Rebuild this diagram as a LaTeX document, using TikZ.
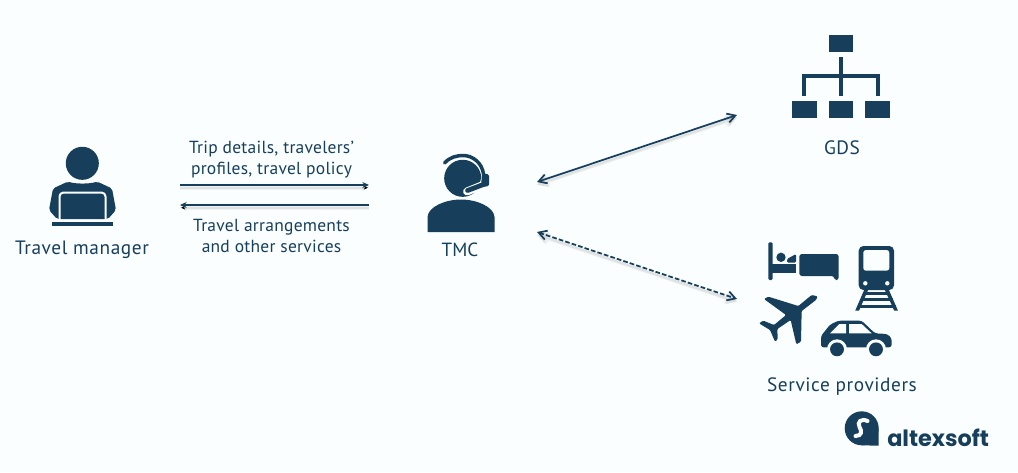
\documentclass[tikz,border=0pt]{standalone}
\usepackage{fontspec}
\setmainfont{PT Sans}
\newfontfamily\logofont{Poppins}
\usetikzlibrary{arrows.meta}
\definecolor{navy}{HTML}{173F5C}
\definecolor{bgc}{HTML}{FAFEFF}
\tikzset{
  x=0.75pt,y=-0.75pt,
  lbl/.style={text=navy,font=\fontsize{14.5pt}{15.8pt}\selectfont\addfontfeature{LetterSpace=3},align=center,inner sep=0pt},
  sml/.style={text=navy,font=\fontsize{13.1pt}{15.8pt}\selectfont\addfontfeature{LetterSpace=1.5},align=center,inner sep=0pt},
  ink/.style={fill=navy,draw=none},
  gap/.style={fill=bgc,draw=none},
  shade/.style={preaction={draw=black,draw opacity=.05,line width=3pt,transform canvas={yshift=-2pt}},preaction={draw=black,draw opacity=.06,line width=1.5pt,transform canvas={yshift=-2pt}}},
  flow/.style={draw=navy,line width=1.3pt,shade,-{Stealth[length=5pt,width=4.5pt]}},
  both/.style={draw=navy,line width=1.3pt,shade,{Straight Barb[length=6pt,width=7pt]}-{Straight Barb[length=6pt,width=7pt]}},
  bothdash/.style={both,dash pattern=on 3.5pt off 1.6pt},
}
\begin{document}
\begin{tikzpicture}
\path[use as bounding box,fill=bgc] (0,0) rectangle (1018,472);
% Travel manager icon
\fill[ink] (82.3,163.3) circle (12.4pt);
\fill[ink,rounded corners=1.5pt] (68,181.5) .. controls (75,184) and (90,184) .. (97,181.5) -- (112,188.5) -- (116,210) -- (108,219) -- (57,219) -- (49,210) -- (53,188.5) -- cycle;
\draw[draw=bgc,line width=1.5pt,rounded corners=3pt] (59.5,223) -- (59.5,192.5) -- (105.5,192.5) -- (105.5,223);
\fill[ink] (52,222) rectangle (113,226);
\node[lbl] (manager) at (82,250) {Travel manager};
% TMC icon
\fill[ink] (462.7,178.3) circle (13.9pt);
\draw[draw=bgc,line width=6pt,line cap=round] (488,183) -- (467,191.5);
\draw[draw=navy,line width=2.6pt,line cap=round] (444.5,163) .. controls (450,157) and (457,155.5) .. (463,155.5) .. controls (473,155.5) and (482,163) .. (483.5,174);
\draw[draw=bgc,line width=1.2pt] (483,174) -- (480,186);
\fill[ink,rounded corners=1pt] (482,173) -- (489,174.5) -- (489,186) -- (481,187) -- cycle;
\draw[draw=navy,line width=3.6pt,line cap=round] (486,183.5) -- (467.5,190.5);
\fill[ink] (427.5,232) -- (427.5,217) .. controls (428,207) and (445,199.5) .. (461,199.5) .. controls (477,199.5) and (494,207) .. (494.5,217) -- (494.5,232) -- cycle;
\node[lbl,font=\fontsize{14.3pt}{15.8pt}\selectfont] (tmc) at (460,250) {TMC};
% GDS icon
\fill[ink] (828.7,35) rectangle (853.3,51.7);
\fill[ink] (838.7,57) rectangle (843.3,95.7);
\fill[ink] (801.7,74.3) rectangle (880,78.3);
\fill[ink] (801.7,74.3) rectangle (806.3,95.7);
\fill[ink] (875.5,74.3) rectangle (880,95.7);
\fill[ink] (791.7,101) rectangle (816.7,117.7);
\fill[ink] (828.7,101) rectangle (853.3,117.7);
\fill[ink] (865.3,101) rectangle (890.3,117.7);
\node[lbl] (gds) at (842,148) {GDS};
% Bed
\fill[ink,rounded corners=1pt] (768.3,242.3) rectangle (772.7,280);
\fill[ink] (772,264.3) rectangle (796,272.7);
\fill[ink] (781,257.3) circle (3.5pt);
\fill[ink,rounded corners=1pt] (787,259) -- (796,254) -- (796,262.7) -- (787,262.7) -- cycle;
\fill[ink,rounded corners=2pt] (799.3,254) -- (838.7,254) -- (838.7,280) -- (834.3,280) -- (834.3,276) -- (799.3,276) -- cycle;
% Train
\fill[ink] (865,288) -- (869,288) -- (859,310.7) -- (855.2,310.7) -- cycle;
\fill[ink] (884,288) -- (888,288) -- (898,310.7) -- (894.2,310.7) -- cycle;
\fill[ink] (863,291.5) rectangle (890,294.5);
\fill[ink] (860.5,298.3) rectangle (892.5,301);
\fill[ink] (857.5,304.8) rectangle (895.5,307.7);
\fill[ink,rounded corners=3.5pt] (858.7,246) rectangle (894,290);
\fill[gap,rounded corners=2pt] (863.3,250) rectangle (889.3,270.7);
\fill[gap] (865.3,283.3) circle (1.65pt);
\fill[gap] (887.3,283.3) circle (1.65pt);
% Plane
\begin{scope}[shift={(750,230)},x=0.25pt,y=-0.25pt]
\fill[ink,rounded corners=0.8pt] (203,199) -- (185,195) -- (145,228) -- (55,200) -- (42,207) -- (108,255) -- (72,285) -- (40,272) -- (27,280) -- (60,300) -- (75,335) -- (83,328) -- (82,297) -- (122,270) -- (139,343) -- (153,335) -- (155,243) -- (198,210) -- cycle;
% Car
\fill[ink,rounded corners=2pt] (213,352) -- (213,318) -- (240,284) -- (265,272) -- (335,272) -- (375,310) -- (412,312) -- (425,325) -- (425,352) -- cycle;
\fill[gap] (240,310) -- (288,310) -- (288,282) -- (268,282) -- cycle;
\fill[gap] (297,282) -- (335,282) -- (365,310) -- (297,310) -- cycle;
\fill[gap] (261,358) circle (7.5pt);
\fill[gap] (378,358) circle (7.5pt);
\fill[ink] (261,358) circle (5.2pt);
\fill[ink] (378,358) circle (5.2pt);
\end{scope}
\node[lbl] (providers) at (842,386.5) {Service providers};
% Labels
\node[sml] (uptext) at (271.5,160) {Trip details, travelers'\\profiles, travel policy};
\node[sml] (downtext) at (271.5,236) {Travel arrangements\\and other services};
% Logo
\fill[ink] (861.7,428.3) circle (12.75pt);
\fill[ink] (861.7,445.3) -- (878.7,445.7) -- (878.7,428.3) -- cycle;
\draw[draw=bgc,line width=3pt,line cap=round] (867.5,421) .. controls (861,418) and (857,422) .. (859.5,427) .. controls (862,431) and (862,436) .. (855.5,436);
\node[inner sep=0pt,anchor=base west,text=navy,font=\logofont\bfseries\fontsize{16.8pt}{20pt}\selectfont] (logo) at (887,446.5) {altexsoft};
% Connector ends
\coordinate (a1) at (180,185);
\coordinate (a2) at (369,185);
\coordinate (b1) at (369,205);
\coordinate (b2) at (180,205);
\coordinate (c1) at (537,182);
\coordinate (c2) at (737,115);
\coordinate (d1) at (537,232);
\coordinate (d2) at (737,299);
\draw[flow] (a1) -- (a2);
\draw[flow] (b1) -- (b2);
\draw[both] (c1) -- (c2);
\draw[bothdash] (d1) -- (d2);
\end{tikzpicture}
\end{document}
